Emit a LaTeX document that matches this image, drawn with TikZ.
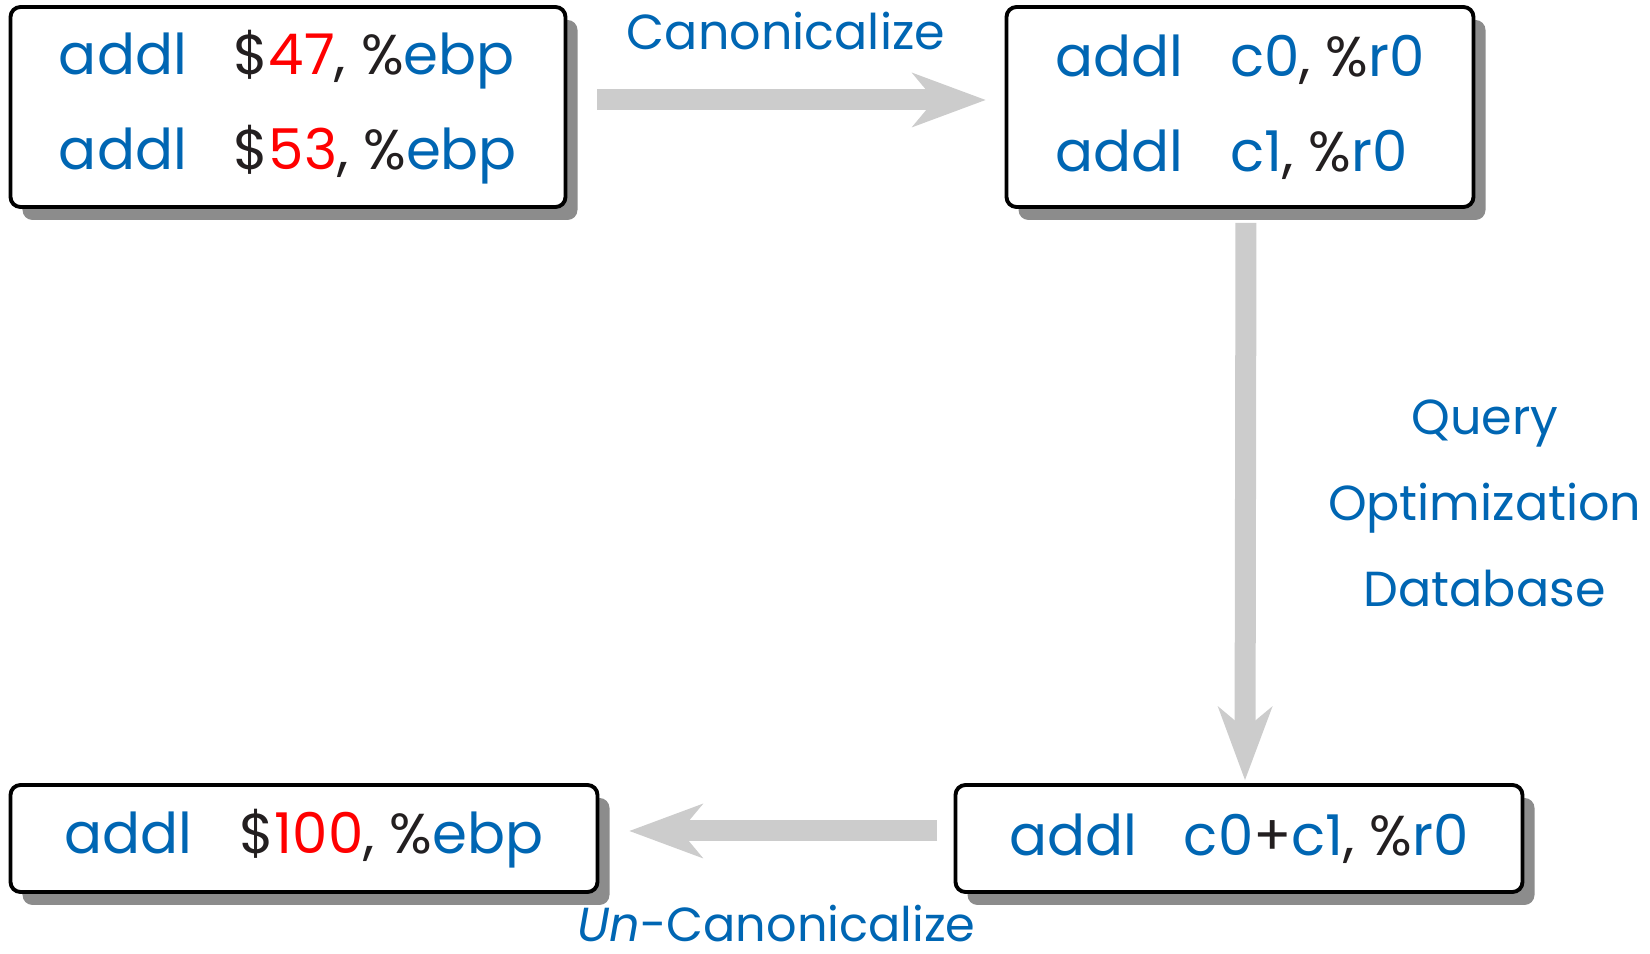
\documentclass[tikz,border=0pt]{standalone}
\usepackage{fontspec}
\setmainfont{Poppins}
\usepackage{xcolor}
\usepackage{tikz}
\usetikzlibrary{arrows.meta,shadows}

\definecolor{insblue}{RGB}{0,102,179}
\definecolor{insred}{RGB}{255,0,0}
\definecolor{instext}{RGB}{35,31,32}
\definecolor{flowgray}{RGB}{204,204,204}
\definecolor{shadowgray}{RGB}{140,140,140}

% opcode / register in blue, immediate in red
\newcommand{\opc}[1]{\textcolor{insblue}{#1}}
\newcommand{\imm}[1]{\textcolor{insred}{#1}}
\newcommand{\opgap}{\hspace{0.47cm}}

\begin{document}
\begin{tikzpicture}[
  insbox/.style={draw=black, line width=1.1pt, fill=white, rounded corners=0.1cm,
    align=left, text=instext, font=\fontsize{16}{27}\selectfont,
    drop shadow={shadow xshift=0.12cm, shadow yshift=-0.13cm, fill=shadowgray, opacity=1}},
  flow/.style={flowgray, line width=0.21cm,
    -{Stealth[length=0.74cm, width=0.55cm, inset=0.23cm, line width=0pt]}},
  flowlabel/.style={text=insblue, inner sep=0pt, align=center, font=\fontsize{14}{24.5}\selectfont}
]
  \useasboundingbox (0,0) rectangle (16.5,-9.54);

  \node[insbox, minimum width=5.55cm, minimum height=2.0cm] (src) at (2.88,-1.07)
    {\opc{addl}\opgap\$\imm{47}, \%\opc{ebp}\\\opc{addl}\opgap\$\imm{53}, \%\opc{ebp}};
  \node[insbox, minimum width=4.67cm, minimum height=2.0cm] (canon) at (12.40,-1.07)
    {\opc{addl}\opgap\opc{c0}, \%\opc{r0}\\\opc{addl}\opgap\opc{c1}, \%\opc{r0}};
  \node[insbox, minimum width=5.67cm, minimum height=1.07cm] (sum) at (12.39,-8.385)
    {\opc{addl}\opgap\opc{c0}+\opc{c1}, \%\opc{r0}};
  \node[insbox, minimum width=5.87cm, minimum height=1.07cm] (result) at (3.04,-8.385)
    {\opc{addl}\opgap\$\imm{100}, \%\opc{ebp}};

  \draw[flow, shorten <=0.30cm, shorten >=0.19cm] ([yshift=0.07cm]src.east) --
    node[flowlabel, above=0.40cm] (canonlbl) {Canonicalize} ([yshift=0.07cm]canon.west);
  \draw[flow, shorten <=0.14cm, shorten >=0.03cm] ([xshift=0.06cm]canon.south) --
    node[flowlabel, right=0.72cm, yshift=-0.07cm] (dblbl) {Query\\Optimization\\Database} ([xshift=0.06cm]sum.north);
  \draw[flow, shorten <=0.165cm, shorten >=0.30cm] ([yshift=0.075cm]sum.west) --
    node[flowlabel, below=0.64cm, font=\fontsize{13.6}{20}\selectfont] (uncanonlbl) {\textit{Un}-Canonicalize} ([yshift=0.075cm]result.east);
\end{tikzpicture}
\end{document}
